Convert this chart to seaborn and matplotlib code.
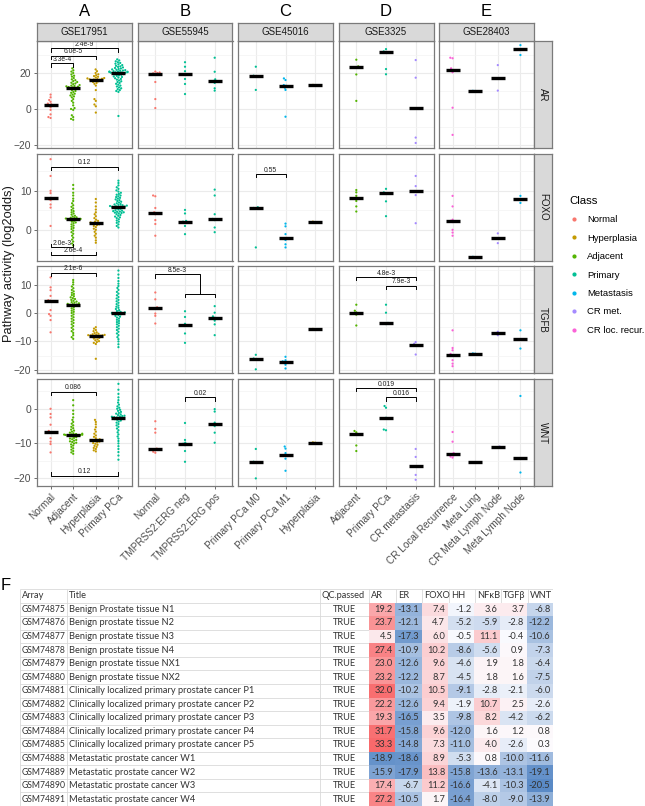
import warnings
warnings.filterwarnings('ignore')
import numpy as np
import pandas as pd
import matplotlib
matplotlib.use('Agg')
import matplotlib.pyplot as plt
import seaborn as sns
from matplotlib.colors import LinearSegmentedColormap
from matplotlib.lines import Line2D

# ---------------- data ----------------
datasets = ['GSE17951', 'GSE55945', 'GSE45016', 'GSE3325', 'GSE28403']
panel_letters = ['A', 'B', 'C', 'D', 'E']
pathways = ['AR', 'FOXO', 'TGFB', 'WNT']
classes = ['Normal', 'Hyperplasia', 'Adjacent', 'Primary', 'Metastasis', 'CR met.', 'CR loc. recur.']
class_colors = ['#F8766D', '#C49A00', '#53B400', '#00C094', '#00B6EB', '#A58AFF', '#FB61D7']

groups = {
    'GSE17951': ['Normal', 'Adjacent', 'Hyperplasia', 'Primary PCa'],
    'GSE55945': ['Normal', 'TMPRSS2:ERG neg', 'TMPRSS2:ERG pos'],
    'GSE45016': ['Primary PCa M0', 'Primary PCa M1', 'Hyperplasia'],
    'GSE3325': ['Adjacent', 'Primary PCa', 'CR metastasis'],
    'GSE28403': ['CR Local Recurrence', 'Meta Lung', 'CR Meta Lymph Node', 'Meta Lymph Node'],
}
group_class = {
    'GSE17951': ['Normal', 'Adjacent', 'Hyperplasia', 'Primary'],
    'GSE55945': ['Normal', 'Primary', 'Primary'],
    'GSE45016': ['Primary', 'Metastasis', 'Hyperplasia'],
    'GSE3325': ['Adjacent', 'Primary', 'CR met.'],
    'GSE28403': ['CR loc. recur.', 'Metastasis', 'CR met.', 'Metastasis'],
}

# GSE17951
GSE17951_AR = [
    [8.0, 6.5, 5.0, 4.0, 3.0, 2.6, 2.0, 1.0, -0.5, -3.0, -5.0, -4.5],
    [22.6, 21.5, 20.8, 20.0, 19.2, 18.5, 18.0, 17.2, 16.5, 16.0, 15.5, 15.0, 14.6, 14.2, 13.8,
     13.3, 13.0, 12.8, 12.6, 12.4, 12.2, 12.0, 11.7, 11.4, 11.0, 10.5, 10.0, 9.5, 9.0, 8.5,
     8.0, 7.5, 7.0, 6.5, 5.5, 4.5, 3.5, 0.5, 0.0, -0.5, -3.5, -4.5, -5.5, -6.0, 2.0],
    [22.0, 21.0, 20.0, 19.3, 18.8, 18.3, 17.9, 17.5, 17.2, 17.0, 16.8, 16.6, 16.5, 16.4, 16.2,
     16.0, 15.7, 15.4, 15.0, 14.5, 14.0, 13.0, 10.5, 5.5, 4.5, 2.5, 1.5, -2.0],
    [27.6, 27.0, 26.5, 26.0, 25.6, 25.2, 24.8, 24.4, 24.0, 23.7, 23.4, 23.1, 22.8, 22.5, 22.2,
     22.0, 21.8, 21.6, 21.4, 21.2, 21.0, 20.9, 20.8, 20.7, 20.6, 20.5, 20.4, 20.3, 20.2, 20.1,
     20.0, 19.8, 19.6, 19.4, 19.2, 19.0, 18.7, 18.4, 18.1, 17.8, 17.5, 17.1, 16.7, 16.3, 15.9,
     15.4, 15.0, 14.5, 14.0, 13.5, 13.0, 12.5, 12.0, 11.5, 11.0, 10.5, 10.0, 9.5, -3.9],
]
GSE17951_FOXO = [
    [18.1, 13.8, 10.0, 9.4, 8.2, 7.9, 7.6, 6.5, 5.7, 1.0],
    [11.5, 10.5, 9.5, 8.8, 8.0, 7.4, 6.8, 6.3, 5.9, 5.5, 5.1, 4.8, 4.5, 4.2, 3.9, 3.6, 3.4, 3.2,
     3.0, 2.9, 2.8, 2.75, 2.7, 2.65, 2.6, 2.5, 2.3, 2.1, 1.9, 1.7, 1.4, 1.1, 0.8, 0.5, 0.2, -0.2,
     -0.6, -1.0, -1.5, -2.0, -2.5, -3.0, -3.5, -4.0, 3.1],
    [7.9, 7.0, 6.0, 5.2, 4.5, 4.0, 3.5, 3.0, 2.6, 2.3, 2.1, 1.9, 1.8, 1.7, 1.6, 1.5, 1.4, 1.2,
     1.0, 0.7, 0.3, 0.0, -0.5, -1.0, -1.5, -2.0, -2.7, -3.3],
    [12.6, 12.0, 11.4, 10.9, 10.5, 10.1, 9.8, 9.5, 9.2, 9.0, 8.8, 8.6, 8.4, 8.2, 8.0, 7.8, 7.6,
     7.4, 7.2, 7.0, 6.8, 6.6, 6.5, 6.4, 6.3, 6.2, 6.1, 6.05, 6.0, 5.95, 5.9, 5.8, 5.7, 5.6, 5.5,
     5.4, 5.2, 5.0, 4.9, 4.8, 4.7, 4.6, 4.5, 4.4, 4.3, 4.2, 4.0, 3.8, 3.6, 3.4, 3.2, 3.0, 2.7,
     2.4, 2.1, 1.8, 1.4, 1.0, 0.6],
]
GSE17951_TGFB = [
    [12.5, 9.0, 8.0, 6.0, 4.5, 4.3, 1.0, -0.4, -1.0, -2.5, -6.8],
    [11.6, 10.8, 10.0, 9.3, 8.7, 8.1, 7.6, 7.1, 6.7, 6.3, 5.9, 5.5, 5.2, 4.9, 4.6, 4.3, 4.0, 3.8,
     3.6, 3.4, 3.2, 3.1, 3.0, 2.9, 2.7, 2.4, 2.0, 1.6, 1.2, 0.8, 0.4, 0.0, -0.5, -1.0, -1.5,
     -2.0, -2.5, -3.0, -3.5, -4.0, -4.6, -5.2, -5.8, -6.4, -7.0, -7.8, -8.5, -9.1],
    [-5.0, -5.5, -6.0, -6.4, -6.8, -7.1, -7.3, -7.5, -7.6, -7.7, -7.8, -7.85, -7.9, -7.95, -8.0,
     -8.2, -8.4, -8.6, -8.8, -9.0, -9.3, -9.6, -9.9, -10.2, -10.5, -10.9, -16.1],
    [14.9, 13.5, 12.3, 11.2, 10.3, 9.5, 8.8, 8.1, 7.4, 6.8, 6.2, 5.6, 5.1, 4.6, 4.1, 3.6, 3.1,
     2.6, 2.2, 1.8, 1.4, 1.0, 0.7, 0.4, 0.2, 0.1, 0.0, -0.1, -0.2, -0.3, -0.5, -0.7, -1.0, -1.3,
     -1.6, -2.0, -2.4, -2.8, -3.2, -3.6, -4.0, -4.5, -5.0, -5.5, -6.0, -6.6, -7.2, -7.8, -8.5,
     -9.2, -10.0, -11.0, -12.0],
]
GSE17951_WNT = [
    [0.0, -1.5, -2.5, -4.6, -6.4, -6.8, -8.5, -9.5, -10.2, -12.6],
    [2.5, 1.0, -0.5, -1.5, -2.5, -3.2, -3.8, -4.3, -4.8, -5.2, -5.6, -6.0, -6.3, -6.6, -6.9, -7.1,
     -7.2, -7.3, -7.4, -7.45, -7.5, -7.55, -7.6, -7.65, -7.7, -7.8, -7.9, -8.0, -8.2, -8.4, -8.6,
     -8.8, -9.0, -9.2, -9.4, -9.6, -9.8, -10.0, -10.3, -10.6, -11.0, -11.4, -11.8, -12.2, -12.6, -13.0],
    [-3.2, -3.8, -4.5, -5.3, -6.0, -6.6, -7.2, -7.7, -8.1, -8.5, -8.8, -9.0, -9.1, -9.2, -9.3,
     -9.5, -9.7, -9.9, -10.1, -10.4, -10.7, -11.0, -11.3, -11.6, -12.0, -12.3],
    [7.2, 5.5, 4.3, 3.3, 2.5, 1.8, 1.2, 0.7, 0.3, 0.0, -0.3, -0.6, -0.9, -1.2, -1.4, -1.6, -1.8,
     -2.0, -2.1, -2.2, -2.3, -2.4, -2.5, -2.6, -2.7, -2.8, -3.0, -3.2, -3.4, -3.7, -4.0, -4.4,
     -4.8, -5.2, -5.7, -6.2, -6.8, -7.4, -8.0, -8.6, -9.3, -10.0, -10.8, -11.6, -12.5, -13.5, -14.7],
]

# GSE55945
GSE55945_AR = [[20.8, 20.3, 20.0, 19.8, 19.4, 15.0, 5.5, 0.5],
               [26.0, 23.5, 21.0, 19.2, 16.7, 13.9, 8.3],
               [28.5, 20.7, 16.5, 15.6, 14.5, 11.5, 10.2]]
GSE55945_FOXO = [[8.8, 8.6, 5.6, 4.5, 4.0, 2.5, 1.5, -1.5],
                 [5.1, 4.2, 2.3, 2.1, 1.8, 1.0, -1.1],
                 [10.3, 8.8, 4.0, 2.8, 2.5, 0.6, -0.6]]
GSE55945_TGFB = [[7.2, 4.8, 2.0, 1.7, 1.5, -0.2, -1.0, -3.7],
                 [0.6, -1.4, -3.8, -4.4, -4.6, -7.2, -10.5],
                 [2.4, 0.1, -1.2, -1.7, -2.7, -4.0, -7.8]]
GSE55945_WNT = [[-3.6, -5.8, -6.9, -11.5, -11.7, -12.0, -12.7, -12.4],
                [-4.1, -9.0, -9.8, -10.1, -10.5, -12.2, -15.3],
                [-0.1, -0.8, -4.0, -4.5, -5.0, -6.9, -9.8]]

# GSE45016
GSE45016_AR = [[23.5, 18.5, 18.2, 10.6],
               [17.0, 16.1, 13.3, 12.9, 11.8, 10.6, -4.3],
               [13.0, 13.4]]
GSE45016_FOXO = [[5.8, 5.6, 5.5, -4.5],
                 [1.6, 0.9, -1.1, -2.2, -2.6, -3.7, -4.5],
                 [2.0, 2.1]]
GSE45016_TGFB = [[-14.7, -16.0, -16.3, -19.8],
                 [-15.4, -16.6, -17.4, -17.5, -18.2, -19.5, -17.0],
                 [-5.7, -5.6]]
GSE45016_WNT = [[-11.6, -15.3, -15.5, -20.1],
                [-10.9, -11.5, -12.8, -13.4, -13.6, -14.4, -17.9],
                [-9.8, -9.7]]

# GSE28403
GSE28403_AR = [[28.5, 28.2, 22.6, 21.7, 21.1, 20.4, 0.7, -14.4], [10.0, 10.1],
               [24.4, 17.0, 10.2], [35.5, 33.2, 30.0]]
GSE28403_FOXO = [[8.7, 6.0, 2.6, 2.3, 2.0, 0.0, -0.7, -1.5], [-6.9, -7.0],
                 [-0.9, -2.2, -3.4], [8.7, 7.9, 6.9]]
GSE28403_TGFB = [[-6.1, -12.3, -13.1, -14.4, -14.8, -16.6, -17.8, -18.7], [-14.2, -14.3],
                 [-6.6, -7.2, -7.8], [-6.1, -9.3, -12.5]]
GSE28403_WNT = [[-6.7, -9.5, -12.8, -13.1, -13.5, -13.8, -14.1, -13.3], [-15.4, -15.5],
                [-10.9, -11.1, -11.3], [3.7, -14.3, -18.4]]

# Table (panel F) = GSE3325 samples
table_array = ['GSM74875', 'GSM74876', 'GSM74877', 'GSM74878', 'GSM74879', 'GSM74880',
               'GSM74881', 'GSM74882', 'GSM74883', 'GSM74884', 'GSM74885',
               'GSM74888', 'GSM74889', 'GSM74890', 'GSM74891']
table_title = ['Benign Prostate tissue N1', 'Benign prostate tissue N2', 'Benign prostate tissue N3',
               'Benign prostate tissue N4', 'Benign prostate tissue NX1', 'Benign prostate tissue NX2',
               'Clinically localized primary prostate cancer P1',
               'Clinically localized primary prostate cancer P2',
               'Clinically localized primary prostate cancer P3',
               'Clinically localized primary prostate cancer P4',
               'Clinically localized primary prostate cancer P5',
               'Metastatic prostate cancer W1', 'Metastatic prostate cancer W2',
               'Metastatic prostate cancer W3', 'Metastatic prostate cancer W4']
table_qc = ['TRUE'] * 15
table_group = ['Adjacent'] * 6 + ['Primary PCa'] * 5 + ['CR metastasis'] * 4
table_AR = [19.2, 23.7, 4.5, 27.4, 23.0, 23.2, 32.0, 22.2, 19.3, 31.7, 33.3, -18.9, -15.9, 17.4, 27.2]
table_ER = [-13.1, -12.1, -17.3, -10.9, -12.6, -12.2, -10.2, -12.6, -16.5, -15.8, -14.8, -18.6, -17.9, -6.7, -10.5]
table_FOXO = [7.4, 4.7, 6.0, 10.2, 9.6, 8.7, 10.5, 9.4, 3.5, 9.6, 7.3, 8.9, 13.8, 11.2, 1.7]
table_HH = [-1.2, -5.2, -0.5, -8.6, -4.6, -4.5, -9.1, -1.9, -9.8, -12.0, -11.0, -5.3, -15.8, -16.6, -16.4]
table_NFkB = [3.6, -5.9, 11.1, -5.6, 1.9, 1.8, -2.8, 10.7, 8.2, 1.6, 4.0, 0.8, -13.6, -4.1, -8.0]
table_TGFb = [3.7, -2.8, -0.4, 0.9, 1.8, 1.6, -2.1, 2.5, -4.2, 1.2, -2.6, -10.0, -13.1, -10.3, -9.0]
table_WNT = [-6.8, -12.2, -10.6, -7.3, -6.4, -7.5, -6.0, -2.6, -6.2, 0.8, 0.3, -11.6, -19.1, -20.5, -13.9]
# TGFB panel values for GSE3325
GSE3325_TGFB = [[2.9, 0.8, 0.2, -0.2, -0.6, -4.4], [2.9, 0.1, -3.5, -3.7, -3.9], [-10.2, -10.8, -11.4, -14.6]]


def split_by_group(vals):
    return [[v for v, g in zip(vals, table_group) if g == grp] for grp in groups['GSE3325']]


panel_values = {
    'GSE17951': {'AR': GSE17951_AR, 'FOXO': GSE17951_FOXO, 'TGFB': GSE17951_TGFB, 'WNT': GSE17951_WNT},
    'GSE55945': {'AR': GSE55945_AR, 'FOXO': GSE55945_FOXO, 'TGFB': GSE55945_TGFB, 'WNT': GSE55945_WNT},
    'GSE45016': {'AR': GSE45016_AR, 'FOXO': GSE45016_FOXO, 'TGFB': GSE45016_TGFB, 'WNT': GSE45016_WNT},
    'GSE3325': {'AR': split_by_group(table_AR), 'FOXO': split_by_group(table_FOXO),
                'TGFB': GSE3325_TGFB, 'WNT': split_by_group(table_WNT)},
    'GSE28403': {'AR': GSE28403_AR, 'FOXO': GSE28403_FOXO, 'TGFB': GSE28403_TGFB, 'WNT': GSE28403_WNT},
}

rows = []
for ds in datasets:
    for pw in pathways:
        for g, c, vals in zip(groups[ds], group_class[ds], panel_values[ds][pw]):
            for v in vals:
                rows.append((ds, pw, g, c, v))
df = pd.DataFrame(rows, columns=['dataset', 'pathway', 'group', 'cls', 'value'])

brackets = [
    ('GSE17951', 'AR', 'Normal', 'Adjacent', 25.4, '3.3e-4', 'down'),
    ('GSE17951', 'AR', 'Normal', 'Hyperplasia', 29.6, '6.0e-5', 'down'),
    ('GSE17951', 'AR', 'Normal', 'Primary PCa', 33.7, '2.4e-9', 'down'),
    ('GSE17951', 'FOXO', 'Normal', 'Primary PCa', 16.2, '0.12', 'down'),
    ('GSE17951', 'FOXO', 'Normal', 'Adjacent', -4.5, '2.0e-3', 'up'),
    ('GSE17951', 'FOXO', 'Normal', 'Hyperplasia', -6.4, '2.6e-4', 'up'),
    ('GSE45016', 'FOXO', 'Primary PCa M0', 'Primary PCa M1', 14.3, '0.55', 'down'),
    ('GSE17951', 'TGFB', 'Normal', 'Hyperplasia', 14.2, '2.1e-6', 'down'),
    ('GSE3325', 'TGFB', 'Adjacent', 'CR metastasis', 12.6, '4.8e-3', 'down'),
    ('GSE3325', 'TGFB', 'Primary PCa', 'CR metastasis', 9.6, '7.9e-3', 'down'),
    ('GSE17951', 'WNT', 'Normal', 'Hyperplasia', 4.9, '0.086', 'down'),
    ('GSE17951', 'WNT', 'Normal', 'Primary PCa', -19.3, '0.12', 'up'),
    ('GSE55945', 'WNT', 'TMPRSS2:ERG neg', 'TMPRSS2:ERG pos', 3.3, '0.02', 'down'),
    ('GSE3325', 'WNT', 'Adjacent', 'CR metastasis', 6.0, '0.019', 'down'),
    ('GSE3325', 'WNT', 'Primary PCa', 'CR metastasis', 3.3, '0.016', 'down'),
]
nested_bracket = ('GSE55945', 'TGFB', 'Normal', 'TMPRSS2:ERG neg', 'TMPRSS2:ERG pos', 13.6, 6.8, '8.5e-3')

# ---------------- layout ----------------
W, H = 645, 806
plt.rcParams['font.family'] = ['Liberation Sans', 'DejaVu Sans']
fig = plt.figure(figsize=(W / 100, H / 100), dpi=100)


def add_ax(x0, y0, w, h):
    return fig.add_axes([x0 / W, 1 - (y0 + h) / H, w / W, h / H])


col_x = [37, 137.5, 238, 338.5, 439]
pw_w = 95
row_y = [41, 153.7, 266.3, 379]
ph = 107
ylims = {'AR': (-21.7, 37.8), 'FOXO': (-7.9, 19.5), 'TGFB': (-21.2, 16.4), 'WNT': (-22.3, 8.6)}
major = {'AR': [-20, 0, 20], 'FOXO': [0, 10], 'TGFB': [-20, -10, 0, 10], 'WNT': [-20, -10, 0]}
minor = {'AR': [-10, 10, 30], 'FOXO': [-5, 5, 15], 'TGFB': [-15, -5, 5, 15], 'WNT': [-15, -5, 5]}
border = '#7a7a7a'
txtgray = '#4D4D4D'

axes = {}
for ci, ds in enumerate(datasets):
    order = groups[ds]
    for ri, pw in enumerate(pathways):
        ax = add_ax(col_x[ci], row_y[ri], pw_w, ph)
        axes[(ds, pw)] = ax
        sub = df[(df.dataset == ds) & (df.pathway == pw)]
        sns.swarmplot(data=sub, x='group', y='value', hue='cls', hue_order=classes,
                      palette=class_colors, order=order, size=1.6, linewidth=0,
                      legend=False, ax=ax, zorder=3, warn_thresh=1)
        sns.pointplot(data=sub, x='group', y='value', order=order, estimator='median',
                      errorbar=None, color='black', marker='_', markersize=10,
                      markeredgewidth=2.4, linestyle='none', ax=ax, zorder=4)
        ax.set_xlim(-0.6, len(order) - 0.4)
        ax.set_ylim(*ylims[pw])
        ax.set_yticks(major[pw])
        ax.set_yticks(minor[pw], minor=True)
        ax.set_axisbelow(True)
        ax.grid(which='major', color='#EBEBEB', lw=0.8)
        ax.grid(which='minor', axis='y', color='#F3F3F3', lw=0.5)
        for s in ax.spines.values():
            s.set_color(border)
            s.set_linewidth(0.9)
        ax.set_xlabel('')
        ax.set_ylabel('')
        ax.tick_params(which='minor', left=False)
        ax.tick_params(axis='both', length=2.5, width=0.6, color='#555555',
                       labelsize=7.4, labelcolor=txtgray, pad=1.5)
        if ci > 0:
            ax.tick_params(axis='y', left=False, labelleft=False)
        if ri < 3:
            ax.tick_params(axis='x', bottom=False, labelbottom=False)
        else:
            ax.set_xticks(range(len(order)))
            ax.set_xticklabels(order, rotation=45, ha='right', va='top',
                               rotation_mode='anchor', fontsize=7.2, color=txtgray)

# brackets
bfs = 4.9
for ds, pw, g1, g2, y, lab, d in brackets:
    ax = axes[(ds, pw)]
    order = groups[ds]
    x1, x2 = order.index(g1), order.index(g2)
    upp = (ylims[pw][1] - ylims[pw][0]) / ph
    tick = 3.3 * upp * (-1 if d == 'down' else 1)
    ax.plot([x1, x1, x2, x2], [y + tick, y, y, y + tick], color='black', lw=0.7, zorder=5)
    ax.text((x1 + x2) / 2, y + 0.5 * upp, lab, ha='center', va='bottom', fontsize=bfs,
            color='#222222', zorder=6)

ds, pw, g0, ga, gb, yt, ym, lab = nested_bracket
ax = axes[(ds, pw)]
order = groups[ds]
x0, xa, xb = order.index(g0), order.index(ga), order.index(gb)
upp = (ylims[pw][1] - ylims[pw][0]) / ph
tk = 3.3 * upp
xm = (xa + xb) / 2
ax.plot([x0, x0, xm, xm], [yt - tk, yt, yt, ym], color='black', lw=0.7, zorder=5)
ax.plot([xa, xa, xb, xb], [ym - tk, ym, ym, ym - tk], color='black', lw=0.7, zorder=5)
ax.text((x0 + xm) / 2, yt + 0.5 * upp, lab, ha='center', va='bottom', fontsize=bfs,
        color='#222222', zorder=6)

# strips
for ci, ds in enumerate(datasets):
    sax = add_ax(col_x[ci], 23, pw_w, 18)
    sax.set_facecolor('#D9D9D9')
    sax.set_xticks([]); sax.set_yticks([])
    for s in sax.spines.values():
        s.set_color(border); s.set_linewidth(0.9)
    sax.text(0.5, 0.5, ds, ha='center', va='center', fontsize=7, color='#1A1A1A',
             transform=sax.transAxes)
    fig.text((col_x[ci] + pw_w / 2) / W, 1 - 12 / H, panel_letters[ci], ha='center',
             va='center', fontsize=12)
for ri, pw in enumerate(pathways):
    sax = add_ax(534, row_y[ri], 18, ph)
    sax.set_facecolor('#D9D9D9')
    sax.set_xticks([]); sax.set_yticks([])
    for s in sax.spines.values():
        s.set_color(border); s.set_linewidth(0.9)
    sax.text(0.5, 0.5, pw, ha='center', va='center', fontsize=7, color='#1A1A1A',
             rotation=-90, transform=sax.transAxes)

fig.text(9 / W, 1 - 264 / H, 'Pathway activity (log2odds)', rotation=90, ha='center',
         va='center', fontsize=9.3, color='#1A1A1A')

# legend
handles = [Line2D([], [], marker='o', ls='none', color=c, markersize=2.0) for c in class_colors]
fig.legend(handles, classes, title='Class', loc='upper left',
           bbox_to_anchor=(566 / W, 1 - 192 / H), frameon=False, fontsize=6.8,
           title_fontsize=8.2, handlelength=0.9, handletextpad=0.9, labelspacing=1.0,
           alignment='left', borderaxespad=0)

# ---------------- table (F) ----------------
tfont = ['Lato', 'DejaVu Sans']
fig.text(6 / W, 1 - 586 / H, 'F', ha='center', va='center', fontsize=12)
t_left, t_right, t_top, t_bot = 20, 553, 589, 806
nrows = len(table_array) + 1
ax_t = add_ax(t_left, t_top, t_right - t_left, t_bot - t_top)
ax_t.set_xlim(t_left, t_right)
ax_t.set_ylim(nrows, 0)
ax_t.axis('off')
col_edges = [20, 67, 320, 369, 396, 422, 449, 475, 501, 528, 553]
headers = ['Array', 'Title', 'QC.passed', 'AR', 'ER', 'FOXO', 'HH', 'NFκB', 'TGFβ', 'WNT']
ax_t.hlines(np.arange(nrows + 1), t_left, t_right, color='#D9D9D9', lw=0.6)
ax_t.vlines(col_edges, 0, nrows, color='#D9D9D9', lw=0.6)
tcolor = '#333333'
tfs = 6.7
for h, xe in zip(headers, col_edges[:-1]):
    ax_t.text(xe + 2, 0.5, h, ha='left', va='center', fontsize=tfs, color=tcolor, family=tfont)
for i in range(len(table_array)):
    y = i + 1.5
    ax_t.text(21.5, y, table_array[i], ha='left', va='center', fontsize=6.2, color=tcolor, family=tfont)
    ax_t.text(69, y, table_title[i], ha='left', va='center', fontsize=tfs, color=tcolor, family=tfont)
    ax_t.text((col_edges[2] + col_edges[3]) / 2, y, table_qc[i], ha='center', va='center',
              fontsize=tfs, color=tcolor, family=tfont)

num_names = ['AR', 'ER', 'FOXO', 'HH', 'NFκB', 'TGFβ', 'WNT']
vals = pd.DataFrame(dict(zip(num_names, [table_AR, table_ER, table_FOXO, table_HH,
                                          table_NFkB, table_TGFb, table_WNT])))
# colour scale over the whole table: 0 -> white, max -> red, min -> blue
vmax_all = vals.values.max()
vmin_all = vals.values.min()
norm = vals.apply(lambda c: c.apply(lambda v: v / vmax_all if v > 0 else v / abs(vmin_all)))
cmap = LinearSegmentedColormap.from_list('rwb', ['#5A8AC6', '#FCFCFF', '#F8696B'])
row_h = (t_bot - t_top) / nrows
ax_h = add_ax(col_edges[3], t_top + row_h, col_edges[-1] - col_edges[3], t_bot - t_top - row_h)
sns.heatmap(norm, annot=vals, fmt='.1f', cmap=cmap, vmin=-1, vmax=1, cbar=False, ax=ax_h,
            xticklabels=False, yticklabels=False,
            annot_kws={'fontsize': tfs, 'color': tcolor, 'family': tfont})
for t in ax_h.texts:
    x, y = t.get_position()
    t.set_position((x + 0.4, y))
    t.set_ha('right')
ax_h.set_xlabel(''); ax_h.set_ylabel('')

fig.savefig('out.png', dpi=100)
